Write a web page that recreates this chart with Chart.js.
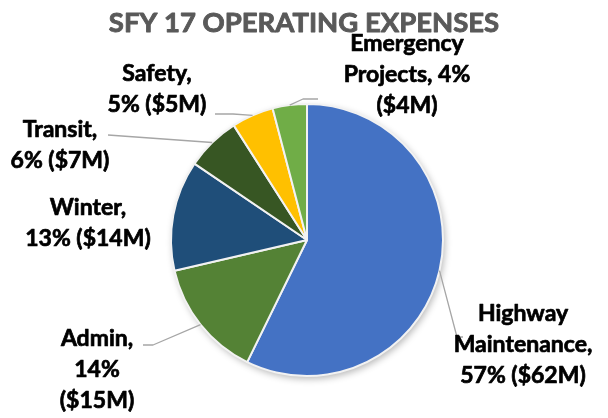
<!DOCTYPE html>
<html>
<head>
<meta charset="utf-8">
<script src="https://cdn.jsdelivr.net/npm/chart.js@4"></script>
<style>
  body { margin: 0; background: #fff; }
  #wrap { width: 608px; height: 418px; }
</style>
</head>
<body>
<div id="wrap"><canvas id="opChart" width="608" height="418"></canvas></div>
<script>
        // Operating expenses, $ millions
        const categories = ['Highway Maintenance', 'Admin', 'Winter', 'Transit', 'Safety', 'Emergency Projects'];
        const spending = [62.0, 15.3, 14.2, 7.0, 5.4, 4.4];
        const sliceColors = ['#4472C4', '#548235', '#1F4E79', '#375623', '#FFC000', '#70AD47'];
        const chartTitle = 'SFY 17 OPERATING EXPENSES';

        // Label text, line breaks as in the original
        const labelText = [
            'Highway\nMaintenance,\n57% ($62M)',
            'Admin,\n14%\n($15M)',
            'Winter,\n13% ($14M)',
            'Transit,\n6% ($7M)',
            'Safety,\n5% ($5M)',
            'Emergency\nProjects, 4%\n($4M)'
        ];

        // Where each label sits (center x, first baseline) and its leader line bend points
        const labelPos = [
            { x: 523, y: 321, line: [[457, 337], [463, 337]] },
            { x: 97, y: 346, line: [[153, 345], [143, 345]] },
            { x: 88, y: 215, line: null },
            { x: 60, y: 137, line: [[108, 135]] },
            { x: 157, y: 81, line: [[233, 114], [215, 114]] },
            { x: 407, y: 51, line: [[303, 99], [318, 99]] }
        ];

        // draw text a little heavier (stroke + fill)
        function boldText(ctx, txt, x, y, color, width) {
            ctx.fillStyle = color;
            ctx.strokeStyle = color;
            ctx.lineWidth = width;
            ctx.lineJoin = 'round';
            ctx.strokeText(txt, x, y);
            ctx.fillText(txt, x, y);
        }

        // soft shadow under the pie
        const pieShadow = {
            id: 'pieShadow',
            beforeDatasetsDraw(chart) {
                const arc = chart.getDatasetMeta(0).data[0];
                if (!arc) return;
                const ctx = chart.ctx;
                ctx.save();
                ctx.shadowColor = 'rgba(0,0,0,0.28)';
                ctx.shadowBlur = 7;
                ctx.shadowOffsetX = 2;
                ctx.shadowOffsetY = 3;
                ctx.fillStyle = '#ffffff';
                ctx.beginPath();
                ctx.arc(arc.x, arc.y, arc.outerRadius, 0, Math.PI * 2);
                ctx.fill();
                ctx.restore();
            }
        };

        // title + labels outside the slices with gray leader lines
        const outsideLabels = {
            id: 'outsideLabels',
            afterDatasetsDraw(chart) {
                const ctx = chart.ctx;
                const arcs = chart.getDatasetMeta(0).data;
                ctx.save();
                ctx.textAlign = 'center';
                ctx.textBaseline = 'alphabetic';
                ctx.font = 'bold 27.5px Lato';
                boldText(ctx, chartTitle, 304, 32, '#595959', 0.9);

                arcs.forEach((arc, i) => {
                    const pos = labelPos[i];
                    if (pos.line) {
                        const mid = (arc.startAngle + arc.endAngle) / 2;
                        ctx.strokeStyle = '#A6A6A6';
                        ctx.lineWidth = 1.3;
                        ctx.beginPath();
                        ctx.moveTo(arc.x + Math.cos(mid) * arc.outerRadius, arc.y + Math.sin(mid) * arc.outerRadius);
                        pos.line.forEach((p) => ctx.lineTo(p[0], p[1]));
                        ctx.stroke();
                    }
                    ctx.font = 'bold 23px Lato';
                    labelText[i].split('\n').forEach((ln, k) => {
                        boldText(ctx, ln, pos.x, pos.y + k * 31, '#000000', 0.7);
                    });
                });
                ctx.restore();
            }
        };

        function displayChart() {
            const ctx = document.getElementById('opChart').getContext('2d');
            new Chart(ctx, {
                type: 'pie',
                data: {
                    labels: categories,
                    datasets: [{
                        data: spending,
                        backgroundColor: sliceColors,
                        borderColor: '#F2F2F2',
                        borderWidth: 2
                    }]
                },
                options: {
                    responsive: false,
                    animation: false,
                    devicePixelRatio: 1,
                    layout: { padding: { top: 103, bottom: 41, left: 104, right: 98 } },
                    plugins: {
                        legend: { display: false },
                        tooltip: { enabled: false },
                        title: { display: false }
                    }
                },
                plugins: [pieShadow, outsideLabels]
            });
        }

        window.onload = () => {
            displayChart();
        };
</script>
</body>
</html>
